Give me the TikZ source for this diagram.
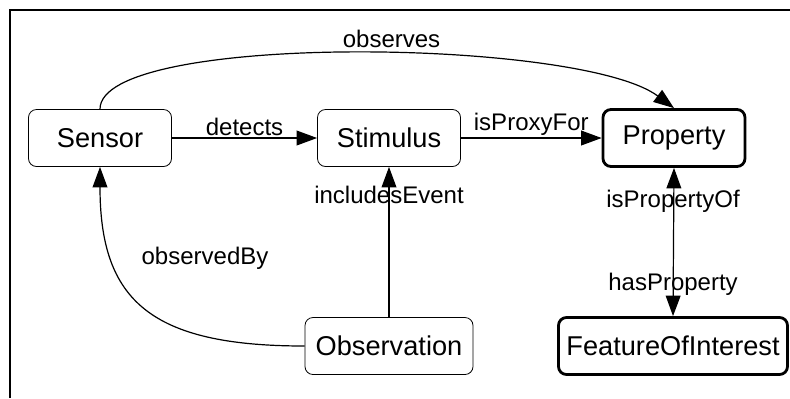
\documentclass[tikz,border=0pt]{standalone}
\usepackage{fontspec}
\setmainfont{Liberation Sans}
\usetikzlibrary{positioning, arrows.meta}

\begin{document}
\begin{tikzpicture}[
  x=0.5pt, y=-0.5pt,
  >={Triangle[length=3.6mm, width=2.6mm]},
  every node/.style={font=\fontsize{12}{14}\selectfont},
  cls/.style   = {draw, rounded corners=4pt, minimum height=28.5pt, inner sep=2pt, font=\fontsize{13.6}{15}\selectfont},
  core/.style  = {cls, line width=1.4pt},
  arr/.style   = {->, semithick},
  lbl/.style   = {inner sep=1pt},
]
  % frame, cut at right and bottom
  \useasboundingbox (0,0) rectangle (790,398);
  \draw[semithick] (10,398) -- (10,10) -- (790,10);

  % class boxes
  \node[cls, minimum width=71.5pt]  (sensor)  at (100,138) {Sensor};
  \node[cls, minimum width=71.5pt]  (stim)    at (389,138) {Stimulus};
  \node[core, minimum width=71pt]   (prop)    at (674,138) {Property};
  \node[cls, minimum width=84pt]    (obs)     at (389,346) {Observation};
  \node[core, minimum width=114.5pt] (foi)    at (673,346) {FeatureOfInterest};

  % relations
  \draw[arr] (sensor) -- node[lbl, above] {detects} (stim);
  \draw[arr] (stim) -- node[lbl, above] {isProxyFor} (prop);
  \draw[arr] (sensor.north) .. controls (100,32) and (580,38) .. node[lbl, above, pos=0.55, yshift=2pt] {observes} (prop.north);
  \draw[arr] (obs.north) -- (stim.south);
  \node[lbl] (incl) at (389,195) {includesEvent};
  \draw[arr] (obs.west) .. controls (150,346) and (100,300) .. (sensor.south);
  \node[lbl] (obsby) at (205,258) {observedBy};
  \draw[<->, semithick] (prop.south) -- (foi.north);
  \node[lbl] (ispo) at (673,201) {isPropertyOf};
  \node[lbl] (hasp) at (673,284) {hasProperty};
\end{tikzpicture}
\end{document}
